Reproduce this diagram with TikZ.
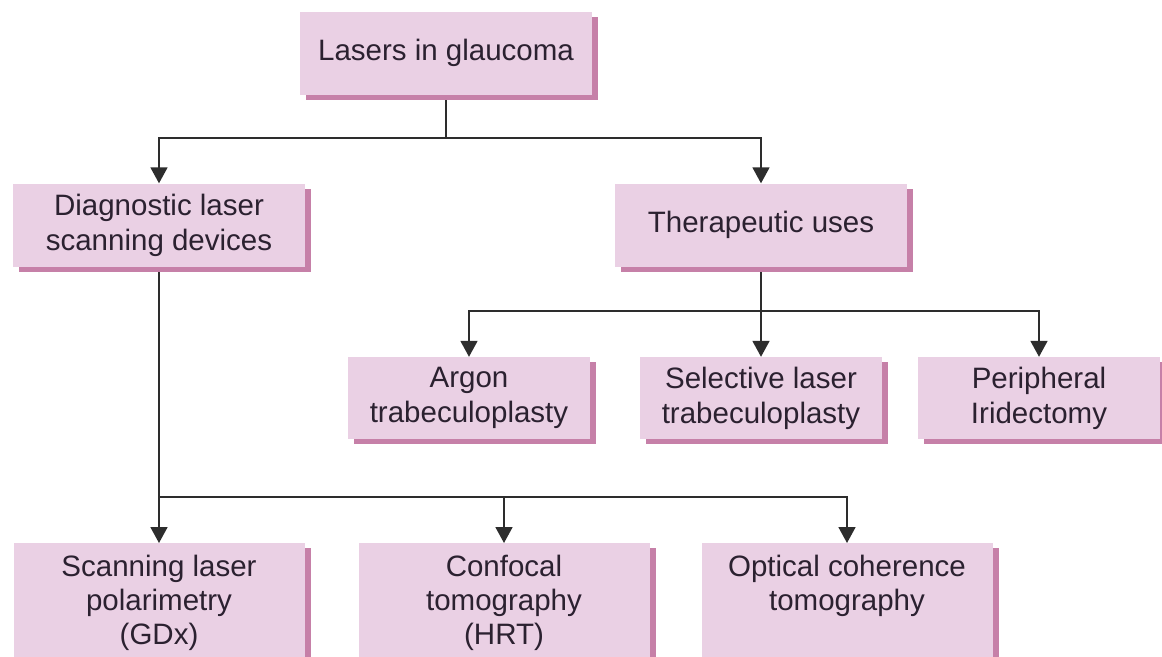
\documentclass[tikz,border=0pt]{standalone}
\usepackage{fontspec}
\setmainfont{Liberation Sans}
\usetikzlibrary{arrows.meta,shadows,backgrounds}

\definecolor{boxfill}{RGB}{234,208,228}
\definecolor{boxshade}{RGB}{198,128,168}
\definecolor{ink}{RGB}{43,33,48}
\definecolor{wire}{RGB}{45,45,45}

\tikzset{
  box/.style={fill=boxfill, inner sep=0pt, align=center, text=ink,
    font=\fontsize{29.5}{35}\selectfont,
    general shadow={fill=boxshade, shadow xshift=6pt, shadow yshift=-5pt}},
  widebox/.style={box, minimum width=292pt, minimum height=83pt},
  leafbox/.style={box, minimum width=242pt, minimum height=82pt},
  tallbox/.style={box, minimum width=291pt, minimum height=150pt, anchor=north},
  talltext/.style={anchor=north, inner sep=0pt, yshift=-12pt, align=center,
    text=ink, font=\fontsize{29.5}{34}\selectfont},
  wireline/.style={draw=wire, line width=1.8pt},
  feed/.style={wireline, -{Triangle[length=16pt,width=17pt]}},
}

\begin{document}
\begin{tikzpicture}[x=1pt,y=-1pt]
  \path[use as bounding box] (0,0) rectangle (1162,656);
  \clip (0,0) rectangle (1162,656);

  % root
  \node[widebox] (root) at (446,53) {Lasers in glaucoma};

  % second level
  \node[widebox] (diag) at (159,225) {Diagnostic laser\\scanning devices};
  \node[widebox] (ther) at (761,225) {Therapeutic uses};

  % therapeutic branches
  \node[leafbox] (alt) at (469,398) {Argon\\trabeculoplasty};
  \node[leafbox] (slt) at (761,398) {Selective laser\\trabeculoplasty};
  \node[leafbox] (pi)  at (1039,398) {Peripheral\\Iridectomy};

  % diagnostic branches (boxes run past the lower edge)
  \node[tallbox, label={[talltext]north:Scanning laser\\polarimetry\\(GDx)}] (gdx) at (159,543) {};
  \node[tallbox, label={[talltext]north:Confocal\\tomography\\(HRT)}] (hrt) at (504,543) {};
  \node[tallbox, label={[talltext]north:Optical coherence\\tomography}] (oct) at (847,543) {};

  \begin{scope}[on background layer]
    \fill[white] (0,0) rectangle (1162,656);

    % root to both groups
    \draw[wireline] (root.south) -- ++(0,43) coordinate (j1);
    \draw[feed] (j1) -| (diag.north);
    \draw[feed] (j1) -| (ther.north);

    % therapeutic uses
    \draw[wireline] (ther.south) -- ++(0,44) coordinate (j2);
    \draw[feed] (j2) -| (alt.north);
    \draw[feed] (j2) -- (slt.north);
    \draw[feed] (j2) -| (pi.north);

    % diagnostic devices
    \draw[wireline] (diag.south) -- ++(0,230) coordinate (j3);
    \draw[feed] (j3) -- (gdx.north);
    \draw[feed] (j3) -| (hrt.north);
    \draw[feed] (j3) -| (oct.north);
  \end{scope}
\end{tikzpicture}
\end{document}
